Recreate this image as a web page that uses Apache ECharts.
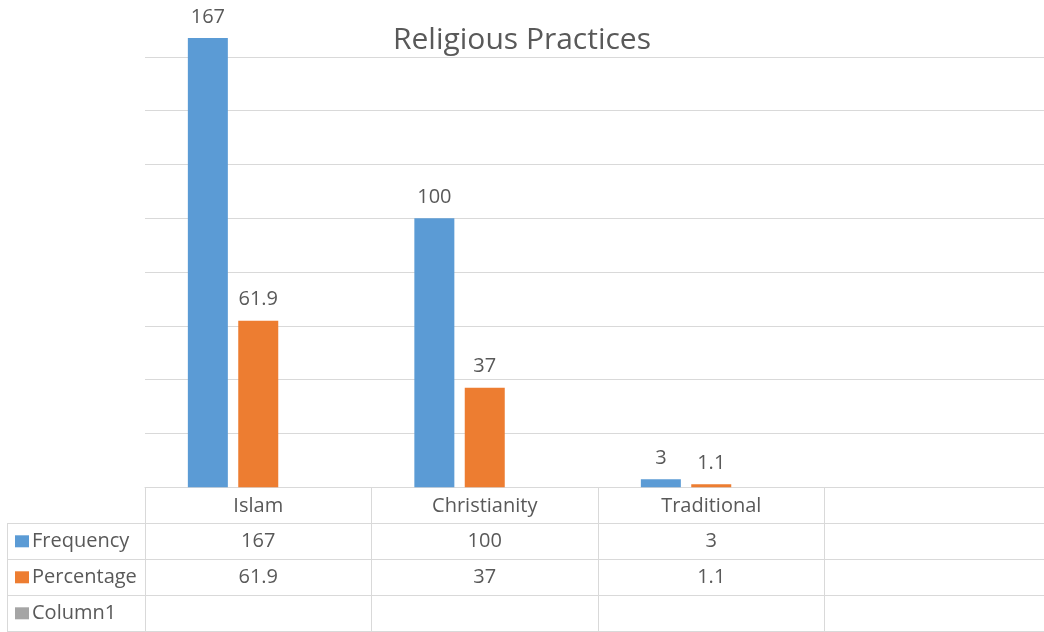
<!DOCTYPE html>
<html>
<head>
<meta charset="utf-8">
<script src="https://cdn.jsdelivr.net/npm/echarts@6/dist/echarts.min.js"></script>
<style>
  html, body { margin: 0; padding: 0; background: #fff; }
  #chart { width: 1044px; height: 632px; }
</style>
</head>
<body>
<div id="chart"></div>
<script>
// data
var categories = ['Islam', 'Christianity', 'Traditional', '']
var seriesNames = ['Frequency', 'Percentage', 'Column1']
var frequency = [167, 100, 3, null]
var percentage = [61.9, 37, 1.1, null]
var column1 = [null, null, null, null]
var tableRows = ['', 'Frequency', 'Percentage', 'Column1']

var colors = ['#5B9BD5', '#ED7D31', '#A5A5A5']
var textColor = '#595959'
var lineColor = '#D9D9D9'
var fontFamily = '"Open Sans", sans-serif'

var myChart = echarts.init(document.getElementById('chart'))

// cells of the data table, built from the arrays
var seriesData = [frequency, percentage, column1]
var cells = []
seriesData.forEach(function (arr, row) {
  arr.forEach(function (v, col) {
    cells.push([col, row + 1, v == null ? '' : String(v)])
  })
})

function barSeries(i) {
  return {
    name: seriesNames[i],
    type: 'bar',
    xAxisIndex: 0,
    yAxisIndex: 0,
    barWidth: 40,
    barGap: '26%',
    itemStyle: { color: colors[i] },
    label: {
      show: true,
      position: 'top',
      distance: 11,
      color: textColor,
      fontSize: 20,
      fontFamily: fontFamily
    },
    data: seriesData[i]
  }
}

var option = {
  animation: false,
  backgroundColor: '#fff',
  title: {
    text: 'Religious Practices',
    left: 'center',
    top: 25,
    padding: 0,
    textStyle: {
      color: textColor,
      fontSize: 30,
      fontWeight: 'normal',
      fontFamily: fontFamily
    }
  },
  grid: [
    // bars
    { left: 145, top: 3, width: 906, height: 484.3, outerBoundsMode: 'none' },
    // data table body
    { left: 145, top: 487.3, width: 906, height: 144, outerBoundsMode: 'none' },
    // row header column
    { left: 7, top: 523.3, width: 138, height: 108, outerBoundsMode: 'none' }
  ],
  xAxis: [
    {
      type: 'category',
      gridIndex: 0,
      data: categories,
      axisLine: { show: true, lineStyle: { color: lineColor } },
      axisTick: { show: false },
      axisLabel: {
        margin: 9,
        color: textColor,
        fontSize: 20,
        fontFamily: fontFamily
      }
    },
    {
      type: 'category',
      gridIndex: 1,
      data: categories,
      axisLine: { show: false },
      axisTick: { show: false },
      axisLabel: { show: false },
      splitLine: { show: true, interval: 0, lineStyle: { color: lineColor } }
    },
    {
      type: 'category',
      gridIndex: 2,
      data: [''],
      axisLine: { show: false },
      axisTick: { show: false },
      axisLabel: { show: false },
      splitLine: { show: true, interval: 0, lineStyle: { color: lineColor } }
    }
  ],
  yAxis: [
    {
      type: 'value',
      gridIndex: 0,
      min: 0,
      max: 180,
      interval: 20,
      axisLabel: { show: false },
      axisLine: { show: false },
      axisTick: { show: false },
      splitLine: { show: true, showMaxLine: false, lineStyle: { color: lineColor } }
    },
    {
      type: 'category',
      gridIndex: 1,
      inverse: true,
      data: tableRows,
      axisLine: { show: false },
      axisTick: { show: false },
      axisLabel: { show: false },
      splitLine: { show: true, interval: 0, lineStyle: { color: lineColor } }
    },
    {
      type: 'category',
      gridIndex: 2,
      inverse: true,
      data: seriesNames,
      axisLine: { show: false },
      axisTick: { show: false },
      splitLine: { show: true, interval: 0, lineStyle: { color: lineColor } },
      axisLabel: {
        inside: true,
        margin: 8,
        align: 'left',
        color: textColor,
        fontSize: 20,
        fontFamily: fontFamily,
        formatter: function (name, idx) {
          return '{k' + idx + '|}{t|' + name + '}'
        },
        rich: {
          k0: { backgroundColor: colors[0], width: 14, height: 12 },
          k1: { backgroundColor: colors[1], width: 14, height: 12 },
          k2: { backgroundColor: colors[2], width: 14, height: 12 },
          t: { color: textColor, fontSize: 20, fontFamily: fontFamily, padding: [0, 0, 0, 3] }
        }
      }
    }
  ],
  series: [
    barSeries(0),
    barSeries(1),
    barSeries(2),
    {
      type: 'custom',
      xAxisIndex: 1,
      yAxisIndex: 1,
      clip: false,
      silent: true,
      encode: { x: 0, y: 1 },
      data: cells.map(function (c) { return [c[0], c[1]] }),
      renderItem: function (params, api) {
        var p = api.coord([api.value(0), api.value(1)])
        return {
          type: 'text',
          x: p[0],
          y: p[1],
          style: {
            text: cells[params.dataIndex][2],
            align: 'center',
            verticalAlign: 'middle',
            fill: textColor,
            fontSize: 20,
            fontFamily: fontFamily
          }
        }
      }
    }
  ]
}

myChart.setOption(option)
window.onresize = function () {
  myChart.resize()
}
</script>
</body>
</html>
